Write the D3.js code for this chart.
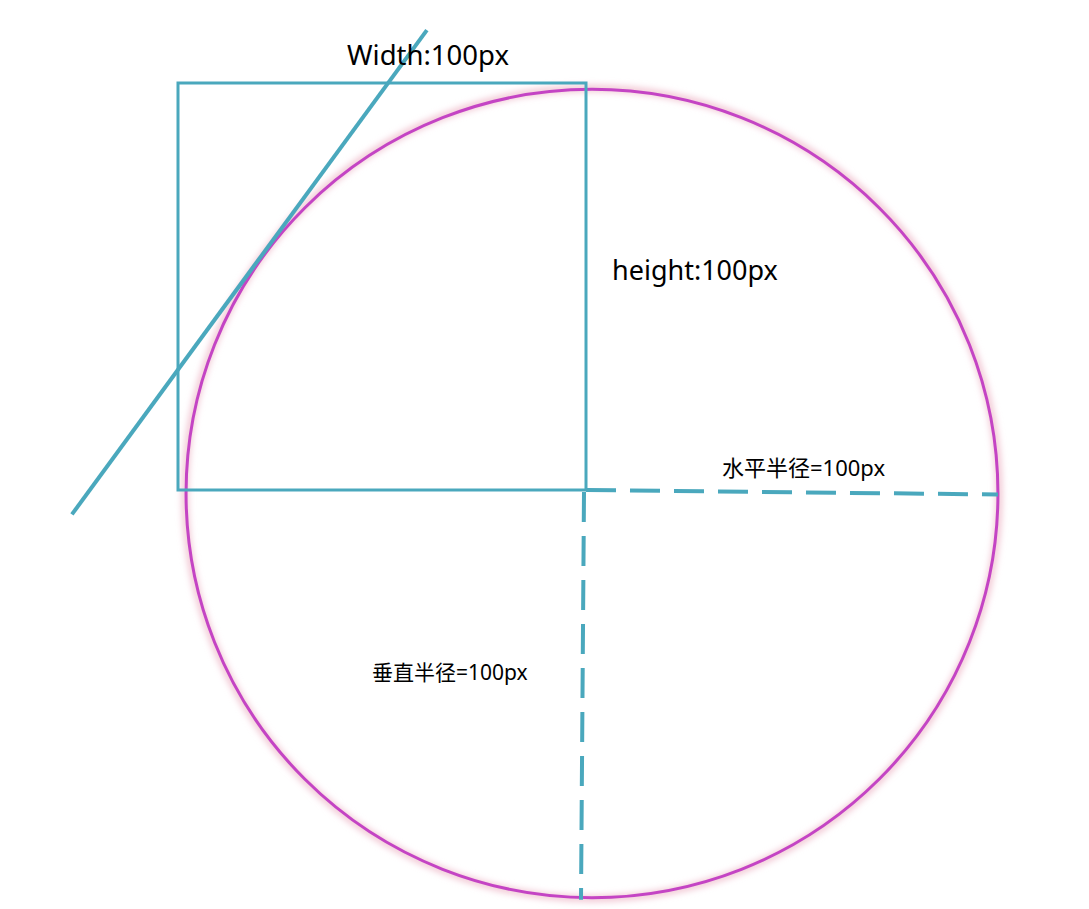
<!DOCTYPE html>
<html><head><meta charset="utf-8">
<script src="https://cdn.jsdelivr.net/npm/d3@7"></script>
<style>body{margin:0;background:#fff}</style></head>
<body><svg id="c" width="1089" height="909"></svg>
<script>
// Diagram values (in px units of the illustrated element, 0..100 scale)
const squareSize = [100, 100];        // width, height
const radii = [99.5, 99.3];           // horizontal, vertical radius
const labels = ["Width:100px", "height:100px", "水平半径=100px", "垂直半径=100px"];
const tangentLine = [[-26, -6], [61, 113]]; // in diagram units

const svg = d3.select("#c");
const x = d3.scaleLinear().domain([0, 100]).range([178, 586]);
const y = d3.scaleLinear().domain([0, 100]).range([490, 83]);
const teal = "#4aa8bd", mag = "#c444c4";

const defs = svg.append("defs");
defs.append("filter").attr("id","glow").append("feGaussianBlur").attr("stdDeviation",3);

// circle
const cx = x(100) + 6, cy = y(0) + 3.5, rx = x(radii[0]) - x(0), ry = y(0) - y(radii[1]);
svg.append("ellipse").attr("cx",cx).attr("cy",cy).attr("rx",rx+1).attr("ry",ry+1)
  .attr("fill","none").attr("stroke","#f2c8d4").attr("stroke-width",7).attr("filter","url(#glow)");
svg.append("ellipse").attr("cx",cx).attr("cy",cy).attr("rx",rx).attr("ry",ry)
  .attr("fill","none").attr("stroke",mag).attr("stroke-width",3);

// square
svg.append("rect").attr("x",x(0)).attr("y",y(squareSize[1]))
  .attr("width",x(squareSize[0])-x(0)).attr("height",y(0)-y(squareSize[1]))
  .attr("fill","none").attr("stroke",teal).attr("stroke-width",3);

// tangent line
svg.append("line").attr("x1",x(tangentLine[0][0])).attr("y1",y(tangentLine[0][1]))
  .attr("x2",x(tangentLine[1][0])).attr("y2",y(tangentLine[1][1]))
  .attr("stroke",teal).attr("stroke-width",4);

// dashed radii
svg.append("line").attr("x1",x(100)).attr("y1",y(0)).attr("x2",cx+rx).attr("y2",cy+1)
  .attr("stroke",teal).attr("stroke-width",4).attr("stroke-dasharray","30,14");
svg.append("line").attr("x1",x(100)-2).attr("y1",y(0)+2).attr("x2",x(100)-5).attr("y2",cy+ry+2)
  .attr("stroke",teal).attr("stroke-width",4).attr("stroke-dasharray","30,14");

const f = "'Noto Sans','Noto Sans CJK SC',sans-serif";
svg.append("text").attr("x",347).attr("y",65).attr("font-size",27.5).attr("font-family",f).text(labels[0]);
svg.append("text").attr("x",612).attr("y",280).attr("font-size",27).attr("font-family",f).text(labels[1]);
svg.append("text").attr("x",722).attr("y",476).attr("font-size",22).attr("font-family",f).text(labels[2]);
svg.append("text").attr("x",372).attr("y",680).attr("font-size",21).attr("font-family",f).text(labels[3]);
</script></body></html>
